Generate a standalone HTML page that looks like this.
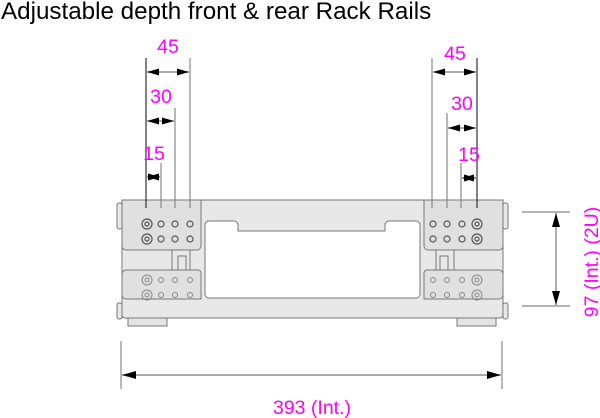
<!DOCTYPE html>
<html><head><meta charset="utf-8"><style>
html,body{margin:0;padding:0;background:#fff;}
svg{display:block;font-family:"Liberation Sans",Arial,sans-serif;}
</style></head><body>
<svg width="600" height="418" viewBox="0 0 600 418">
<defs>
<marker id="a" viewBox="0 0 12 7" refX="12" refY="3.5" markerWidth="12" markerHeight="7" orient="auto-start-reverse" markerUnits="userSpaceOnUse"><path d="M0,0 L12,3.5 L0,7 Z" fill="#000"/></marker>
<marker id="b" viewBox="0 0 14 8" refX="14" refY="4" markerWidth="14" markerHeight="8" orient="auto-start-reverse" markerUnits="userSpaceOnUse"><path d="M0,0 L14,4 L0,8 Z" fill="#000"/></marker>
</defs>
<text x="1" y="19" font-size="24.2" fill="#000">Adjustable depth front &amp; rear Rack Rails</text>

<g stroke="#777" stroke-width="1" fill="#e8e8e8">
<rect x="122" y="200" width="381" height="118" rx="3"/>
<rect x="128" y="318" width="39" height="8" fill="#e4e4e4"/>
<rect x="457" y="318" width="39" height="8" fill="#e4e4e4"/>
<rect x="117" y="203" width="5" height="26" rx="2"/>
<rect x="117" y="303" width="5" height="16" rx="2"/>
<rect x="503" y="203" width="5" height="26" rx="2"/>
<rect x="503" y="303" width="5" height="16" rx="2"/>
<path d="M122,200 H201 V246 a4,4 0 0 1 -4,4 H126 a4,4 0 0 1 -4,-4 Z" fill="#e0e0e0"/>
<path d="M503,200 H424 V246 a4,4 0 0 0 4,4 H499 a4,4 0 0 0 4,-4 Z" fill="#e0e0e0"/>
<path d="M126,270 H198 a3,3 0 0 1 3,3 V299 H126 a4,4 0 0 1 -4,-4 V274 a4,4 0 0 1 4,-4 Z" fill="#e0e0e0"/>
<path d="M499,270 H427 a3,3 0 0 0 -3,3 V299 H499 a4,4 0 0 0 4,-4 V274 a4,4 0 0 0 -4,-4 Z" fill="#e0e0e0"/>
<rect x="172" y="250" width="18" height="20"/>
<rect x="178" y="256" width="8" height="14"/>
<rect x="436" y="250" width="18" height="20"/>
<rect x="440" y="256" width="8" height="14"/>
<path d="M207,221 H234 a4,4 0 0 1 4,4 V231 H385 V225 a4,4 0 0 1 4,-4 H416 a4,4 0 0 1 4,4 V294 a4,4 0 0 1 -4,4 H209 a4,4 0 0 1 -4,-4 V225 a4,4 0 0 1 4,-4 Z" fill="#fff"/>
</g>
<g fill="none" stroke="#555" stroke-width="1.2">
<circle cx="147" cy="224" r="5"/><circle cx="147" cy="224" r="2"/>
<circle cx="147" cy="239" r="5"/><circle cx="147" cy="239" r="2"/>
<circle cx="161" cy="224" r="3"/><circle cx="175" cy="224" r="3"/><circle cx="190" cy="224" r="3"/>
<circle cx="161" cy="239" r="3"/><circle cx="175" cy="239" r="3"/><circle cx="190" cy="239" r="3"/>
<circle cx="477" cy="224" r="5"/><circle cx="477" cy="224" r="2"/>
<circle cx="477" cy="239" r="5"/><circle cx="477" cy="239" r="2"/>
<circle cx="433" cy="224" r="3"/><circle cx="447" cy="224" r="3"/><circle cx="462" cy="224" r="3"/>
<circle cx="433" cy="239" r="3"/><circle cx="447" cy="239" r="3"/><circle cx="462" cy="239" r="3"/>
</g>
<g fill="none" stroke="#888" stroke-width="1">
<circle cx="147" cy="280" r="5"/><circle cx="147" cy="280" r="2"/>
<circle cx="147" cy="295" r="5"/><circle cx="147" cy="295" r="2"/>
<circle cx="161" cy="280" r="2.5"/><circle cx="175" cy="280" r="2.5"/><circle cx="190" cy="280" r="2.5"/>
<circle cx="161" cy="295" r="2.5"/><circle cx="175" cy="295" r="2.5"/><circle cx="190" cy="295" r="2.5"/>
<circle cx="477" cy="280" r="5"/><circle cx="477" cy="280" r="2"/>
<circle cx="477" cy="295" r="5"/><circle cx="477" cy="295" r="2"/>
<circle cx="433" cy="280" r="2.5"/><circle cx="447" cy="280" r="2.5"/><circle cx="462" cy="280" r="2.5"/>
<circle cx="433" cy="295" r="2.5"/><circle cx="447" cy="295" r="2.5"/><circle cx="462" cy="295" r="2.5"/>
</g>
<g stroke="#888" stroke-width="1.2">
<line x1="146" y1="58" x2="146" y2="208" stroke="#333"/>
<line x1="161" y1="163" x2="161" y2="208"/>
<line x1="175" y1="108" x2="175" y2="208"/>
<line x1="190" y1="58" x2="190" y2="208"/>
<line x1="432" y1="58" x2="432" y2="208"/>
<line x1="447" y1="113" x2="447" y2="208"/>
<line x1="461" y1="163" x2="461" y2="208"/>
<line x1="477" y1="58" x2="477" y2="208" stroke="#333"/>
<line x1="522" y1="212" x2="570" y2="212"/>
<line x1="522" y1="306" x2="570" y2="306"/>
<line x1="121" y1="341" x2="121" y2="389"/>
<line x1="502" y1="341" x2="502" y2="389"/>
</g>
<g stroke="#777" stroke-width="1.2">
<line x1="147" y1="72" x2="189" y2="72" marker-start="url(#a)" marker-end="url(#a)"/>
<line x1="147" y1="121" x2="174" y2="121" marker-start="url(#a)" marker-end="url(#a)"/>
<line x1="147" y1="177" x2="160" y2="177" marker-start="url(#a)" marker-end="url(#a)"/>
<line x1="433" y1="72" x2="476" y2="72" marker-start="url(#a)" marker-end="url(#a)"/>
<line x1="448" y1="128" x2="476" y2="128" marker-start="url(#a)" marker-end="url(#a)"/>
<line x1="462" y1="178" x2="476" y2="178" marker-start="url(#a)" marker-end="url(#a)"/>
<line x1="556" y1="213" x2="556" y2="305" marker-start="url(#b)" marker-end="url(#b)"/>
<line x1="122" y1="375" x2="501" y2="375" marker-start="url(#b)" marker-end="url(#b)"/>
</g>
<g fill="#ff00ff" font-size="19.5">
<text x="168" y="53" text-anchor="middle">45</text>
<text x="161" y="103" text-anchor="middle">30</text>
<text x="154" y="160" text-anchor="middle">15</text>
<text x="455" y="60" text-anchor="middle">45</text>
<text x="462" y="110" text-anchor="middle">30</text>
<text x="469" y="161" text-anchor="middle">15</text>
<text x="312" y="414" text-anchor="middle">393 (Int.)</text>
<text transform="translate(598,262) rotate(-90)" text-anchor="middle">97 (Int.) (2U)</text>
</g>
</svg>
</body></html>
